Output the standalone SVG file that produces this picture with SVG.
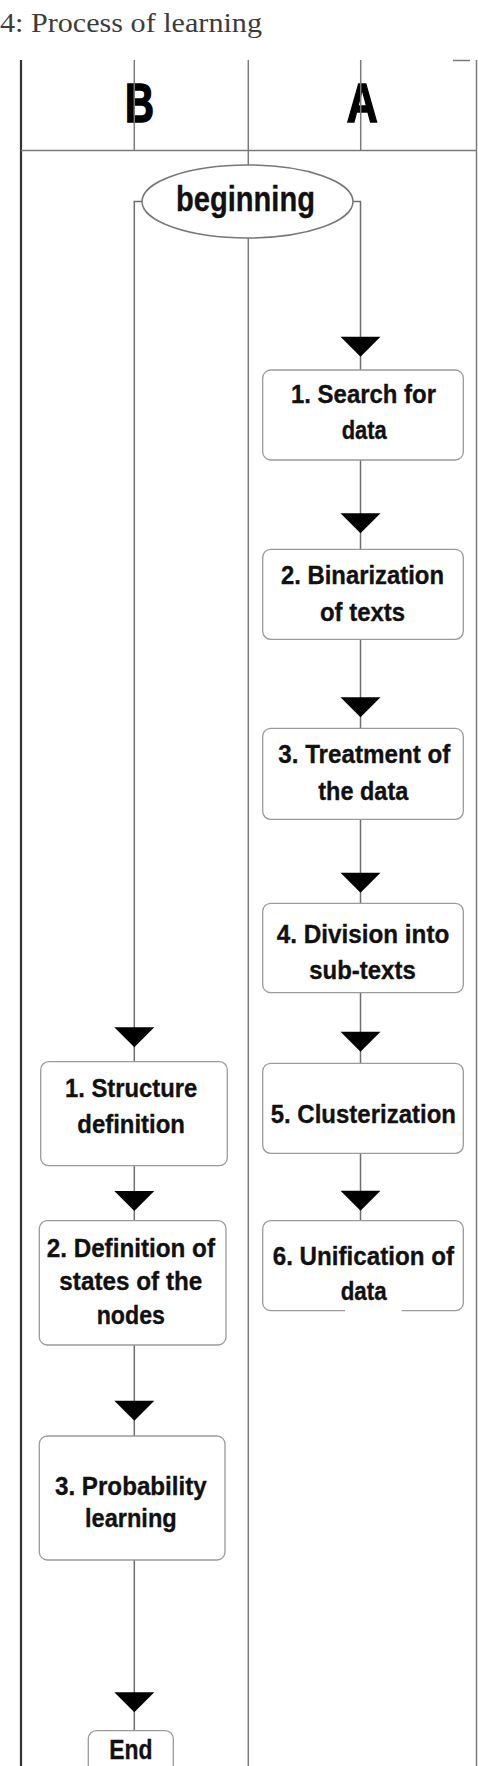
<svg xmlns="http://www.w3.org/2000/svg" width="478" height="1766" viewBox="0 0 478 1766">
<style>
.title{font-family:"Liberation Serif","Times New Roman",serif;font-size:27px;fill:#3c3c3c}
.hdr{font-family:"Liberation Sans",Arial,sans-serif;font-weight:bold;font-size:56px;fill:#000;stroke:#000;stroke-width:1.6}
.t{font-family:"Liberation Sans",Arial,sans-serif;font-weight:bold;font-size:26.5px;fill:#111;stroke:#111;stroke-width:0.35}
.big{font-size:35px}
.end{font-size:27px}
.box{fill:#fff;stroke:#9a9a9a;stroke-width:1.3}
.ell{fill:#fff;stroke:#777;stroke-width:1.5}
.ln{stroke:#6e6e6e;stroke-width:1.5;fill:none}
.fr{stroke:#7a7a7a;stroke-width:1.5;fill:none}
.tri{fill:#000}
</style>
<defs>
<path id="tri" class="tri" d="M-20,0 L20,0 L0,20 Z"/>
</defs>
<rect width="478" height="1766" fill="#fff"/>
<text class="title" x="0" y="32" textLength="262" lengthAdjust="spacingAndGlyphs">4: Process of learning</text>

<g id="frame">
<text class="hdr" x="125" y="122" textLength="29" lengthAdjust="spacingAndGlyphs">B</text>
<text class="hdr" x="346.7" y="121.7" textLength="31" lengthAdjust="spacingAndGlyphs">A</text>
<line x1="21" y1="60" x2="21" y2="1766" stroke="#333" stroke-width="2.2"/>
<line class="fr" x1="476.5" y1="60" x2="476.5" y2="1766"/>
<line class="fr" x1="248.3" y1="60" x2="248.3" y2="1766"/>
<line class="fr" x1="21" y1="150.5" x2="476.5" y2="150.5"/>
<line class="fr" x1="134.3" y1="60" x2="134.3" y2="150.5"/>
<line class="fr" x1="360.7" y1="60" x2="360.7" y2="150.5"/>
<line class="fr" x1="453" y1="60.5" x2="470" y2="60.5"/>
</g>

<g id="connectors">
<path class="ln" d="M353,201.5 H360.5 V370"/>
<path class="ln" d="M360.5,460 V549.3"/>
<path class="ln" d="M360.5,639.3 V728.3"/>
<path class="ln" d="M360.5,819.3 V903.3"/>
<path class="ln" d="M360.5,992.7 V1063.3"/>
<path class="ln" d="M360.5,1153.3 V1220.7"/>
<path class="ln" d="M142,201.5 H134.3 V1061.7"/>
<path class="ln" d="M134.3,1165.7 V1220.7"/>
<path class="ln" d="M134.3,1345 V1436"/>
<path class="ln" d="M134.3,1560 V1730.7"/>
<use href="#tri" x="360.5" y="336.7"/>
<use href="#tri" x="360.5" y="513.3"/>
<use href="#tri" x="360.5" y="697.3"/>
<use href="#tri" x="360.5" y="872.7"/>
<use href="#tri" x="360.5" y="1031.7"/>
<use href="#tri" x="360.5" y="1190.7"/>
<use href="#tri" x="134.3" y="1027.3"/>
<use href="#tri" x="134.3" y="1191"/>
<use href="#tri" x="134.3" y="1400.7"/>
<use href="#tri" x="134.3" y="1692.3"/>
</g>

<g id="beginning">
<ellipse class="ell" cx="247.5" cy="201.5" rx="105.5" ry="36.5"/>
<text class="t big" x="176" y="211" textLength="139" lengthAdjust="spacingAndGlyphs">beginning</text>
</g>

<g id="a1">
<rect class="box" x="262.7" y="370" width="200.6" height="90" rx="8"/>
<text class="t" x="291" y="403" textLength="145" lengthAdjust="spacingAndGlyphs">1. Search for</text>
<text class="t" x="341.7" y="439" textLength="45" lengthAdjust="spacingAndGlyphs">data</text>
</g>
<g id="a2">
<rect class="box" x="262.7" y="549.3" width="200.6" height="90" rx="8"/>
<text class="t" x="281" y="584" textLength="163" lengthAdjust="spacingAndGlyphs">2. Binarization</text>
<text class="t" x="320" y="620.7" textLength="85" lengthAdjust="spacingAndGlyphs">of texts</text>
</g>
<g id="a3">
<rect class="box" x="262.7" y="728.3" width="200.6" height="91" rx="8"/>
<text class="t" x="278.3" y="763" textLength="172" lengthAdjust="spacingAndGlyphs">3. Treatment of</text>
<text class="t" x="318.3" y="800" textLength="90" lengthAdjust="spacingAndGlyphs">the data</text>
</g>
<g id="a4">
<rect class="box" x="262.7" y="903.3" width="200.6" height="89.4" rx="8"/>
<text class="t" x="276.7" y="942.7" textLength="172.6" lengthAdjust="spacingAndGlyphs">4. Division into</text>
<text class="t" x="309.3" y="979.3" textLength="106.4" lengthAdjust="spacingAndGlyphs">sub-texts</text>
</g>
<g id="a5">
<rect class="box" x="262.7" y="1063.3" width="200.6" height="90" rx="8"/>
<text class="t" x="270.7" y="1122.7" textLength="185.3" lengthAdjust="spacingAndGlyphs">5. Clusterization</text>
</g>
<g id="a6">
<path class="box" d="M401.7,1310.7 H455.3 A8,8 0 0 0 463.3,1302.7 V1228.7 A8,8 0 0 0 455.3,1220.7 H270.7 A8,8 0 0 0 262.7,1228.7 V1302.7 A8,8 0 0 0 270.7,1310.7 H345"/>
<text class="t" x="272.7" y="1265" textLength="181.3" lengthAdjust="spacingAndGlyphs">6. Unification of</text>
<text class="t" x="340.7" y="1300" textLength="46" lengthAdjust="spacingAndGlyphs">data</text>
</g>

<g id="b1">
<rect class="box" x="40.7" y="1061.7" width="186.6" height="104" rx="8"/>
<text class="t" x="65" y="1096.7" textLength="132.3" lengthAdjust="spacingAndGlyphs">1. Structure</text>
<text class="t" x="77.3" y="1133.3" textLength="107.7" lengthAdjust="spacingAndGlyphs">definition</text>
</g>
<g id="b2">
<rect class="box" x="39.3" y="1220.7" width="186.7" height="124.3" rx="8"/>
<text class="t" x="46.7" y="1256.7" textLength="168.3" lengthAdjust="spacingAndGlyphs">2. Definition of</text>
<text class="t" x="59.3" y="1290" textLength="143" lengthAdjust="spacingAndGlyphs">states of the</text>
<text class="t" x="96.7" y="1324" textLength="68.3" lengthAdjust="spacingAndGlyphs">nodes</text>
</g>
<g id="b3">
<rect class="box" x="39.3" y="1436" width="185.7" height="124" rx="8"/>
<text class="t" x="55" y="1495" textLength="151.7" lengthAdjust="spacingAndGlyphs">3. Probability</text>
<text class="t" x="85" y="1526.7" textLength="91.7" lengthAdjust="spacingAndGlyphs">learning</text>
</g>
<g id="end">
<rect class="box" x="88.3" y="1730.7" width="85" height="60" rx="8"/>
<text class="t end" x="109.3" y="1759.3" textLength="43.3" lengthAdjust="spacingAndGlyphs">End</text>
</g>
</svg>
